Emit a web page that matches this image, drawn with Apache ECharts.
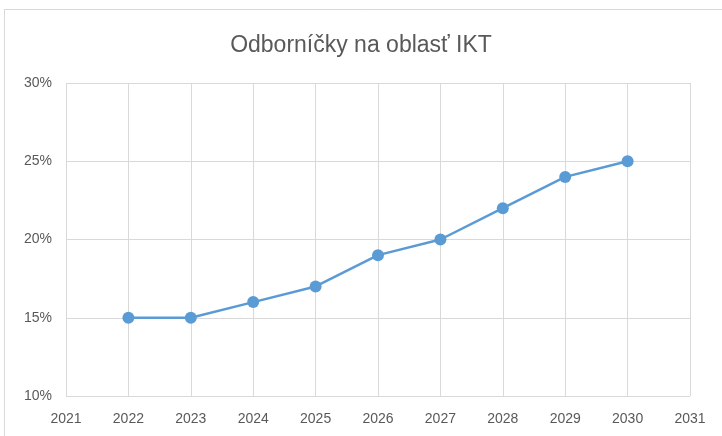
<!DOCTYPE html>
<html>
<head>
<meta charset="utf-8">
<script src="https://cdn.jsdelivr.net/npm/echarts@6/dist/echarts.min.js"></script>
<style>
    html, body { margin: 0; padding: 0; background: #fff; }
    #chart { width: 722px; height: 436px; }
</style>
</head>
<body>
<div id="chart"></div>
<script>
    // data
    var years = [2022, 2023, 2024, 2025, 2026, 2027, 2028, 2029, 2030];
    var shares = [15, 15, 16, 17, 19, 20, 22, 24, 25];
    var chartTitle = 'Odborníčky na oblasť IKT';

    var points = [];
    for (var i = 0; i < years.length; i++) {
        points.push([years[i], shares[i]]);
    }

    var myChart = echarts.init(document.getElementById('chart'));
    var option = {
        animation: false,
        title: {
            text: chartTitle,
            left: 'center',
            top: 29,
            textStyle: { color: '#595959', fontSize: 23, fontWeight: 'normal', fontFamily: 'Liberation Sans' }
        },
        graphic: [{
            type: 'rect',
            shape: { x: 4.5, y: 9.5, width: 740, height: 440 },
            style: { fill: 'none', stroke: '#d9d9d9', lineWidth: 1 },
            silent: true
        }],
        grid: { left: 66, right: 32, top: 83, bottom: 40 },
        xAxis: {
            type: 'value',
            min: 2021, max: 2031, interval: 1,
            axisLine: { show: false },
            axisTick: { show: false },
            splitLine: { show: true, lineStyle: { color: '#d9d9d9', width: 1 } },
            axisLabel: { color: '#595959', fontSize: 14, fontFamily: 'Liberation Sans', margin: 16,
                formatter: function (v) { return String(v); } }
        },
        yAxis: {
            type: 'value',
            min: 10, max: 30, interval: 5,
            axisLine: { show: false },
            axisTick: { show: false },
            splitLine: { show: true, lineStyle: { color: '#d9d9d9', width: 1 } },
            axisLabel: { color: '#595959', fontSize: 14, fontFamily: 'Liberation Sans', margin: 14,
                formatter: function (v) { return v + '%'; } }
        },
        series: [{
            type: 'line',
            data: points,
            symbol: 'circle',
            symbolSize: 12,
            lineStyle: { color: '#5b9bd5', width: 2.5 },
            itemStyle: { color: '#5b9bd5' }
        }]
    };
    myChart.setOption(option);
</script>
</body>
</html>
